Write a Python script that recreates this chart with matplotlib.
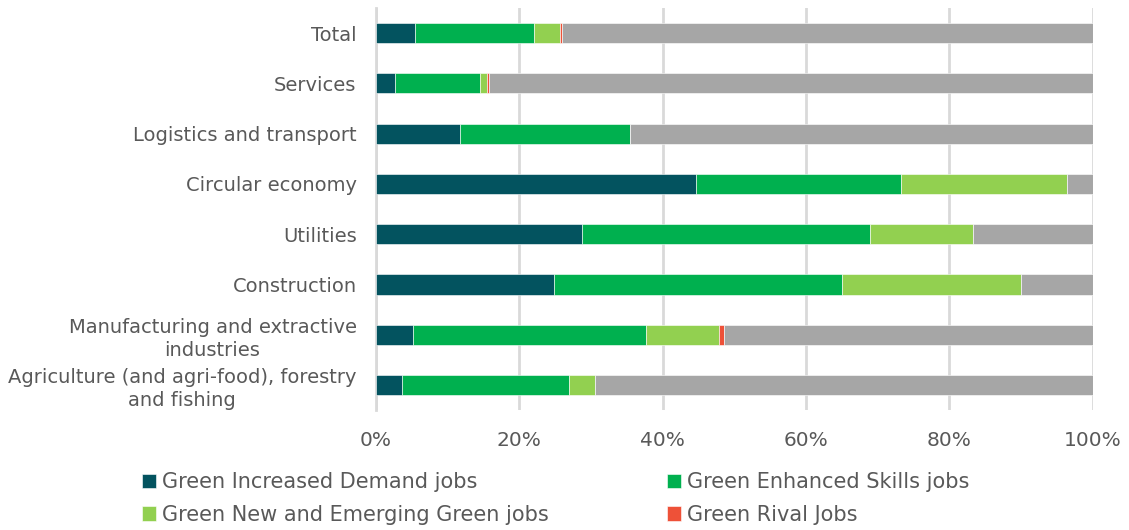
import matplotlib.pyplot as plt
import numpy as np

# sectors, top to bottom as in the chart
sectors = ['Total', 'Services', 'Logistics and transport', 'Circular economy',
           'Utilities', 'Construction',
           'Manufacturing and extractive\nindustries',
           'Agriculture (and agri-food), forestry\nand fishing']

# shares in %
increased_demand = [5.5, 2.7, 11.7, 44.6, 28.8, 24.9, 5.1, 3.7]
enhanced_skills = [16.6, 11.8, 23.7, 28.6, 40.1, 40.1, 32.6, 23.2]
new_emerging = [3.6, 1.0, 0.0, 23.2, 14.4, 25.0, 10.2, 3.6]
rival = [0.3, 0.3, 0.0, 0.0, 0.0, 0.0, 0.6, 0.0]

other = 100 - (np.array(increased_demand) + np.array(enhanced_skills)
               + np.array(new_emerging) + np.array(rival))

plt.rcParams['font.family'] = 'DejaVu Sans'
txt = '#595959'

fig = plt.figure(figsize=(11.29, 5.30), dpi=100)
ax = fig.add_axes([0.333, 0.226, 0.635, 0.759])

y = np.arange(len(sectors))
h = 0.4
left = np.zeros(len(sectors))
series = [
    ('Green Increased Demand jobs', increased_demand, '#03535F'),
    ('Green Enhanced Skills jobs', enhanced_skills, '#00B04F'),
    ('Green New and Emerging Green jobs', new_emerging, '#92D050'),
    ('Green Rival Jobs', rival, '#EE5138'),
    (None, list(other), '#A6A6A6'),
]
handles = {}
for name, vals, col in series:
    b = ax.barh(y, vals, left=left, height=h, color=col,
                edgecolor='white', linewidth=0.4, zorder=3)
    if name:
        handles[name] = b
    left += np.array(vals)

ax.set_ylim(len(sectors) - 0.5, -0.5)
ax.set_xlim(0, 100)
ax.set_yticks(y)
ax.set_yticklabels(sectors, fontsize=14, color=txt, ma='center', linespacing=1.25)
ax.set_xticks([0, 20, 40, 60, 80, 100])
ax.set_xticklabels(['0%', '20%', '40%', '60%', '80%', '100%'], fontsize=14.5, color=txt)
ax.tick_params(length=0, axis='y', pad=14)
ax.tick_params(length=0, axis='x', pad=15)
ax.grid(axis='x', color='#D9D9D9', linewidth=2, zorder=0)
for s in ['top', 'right', 'bottom']:
    ax.spines[s].set_visible(False)
ax.spines['left'].set_color('#D9D9D9')
ax.spines['left'].set_linewidth(2)

order = ['Green Increased Demand jobs', 'Green New and Emerging Green jobs',
         'Green Enhanced Skills jobs', 'Green Rival Jobs']
fig.legend([handles[k] for k in order], order, ncol=2, loc='upper left',
           bbox_to_anchor=(0.126, 0.109), frameon=False, fontsize=15,
           labelcolor=txt, handlelength=0.68, handleheight=0.68,
           handletextpad=0.25, columnspacing=5.7, labelspacing=0.6,
           borderaxespad=0, borderpad=0)

fig.savefig('out.png', dpi=100)
